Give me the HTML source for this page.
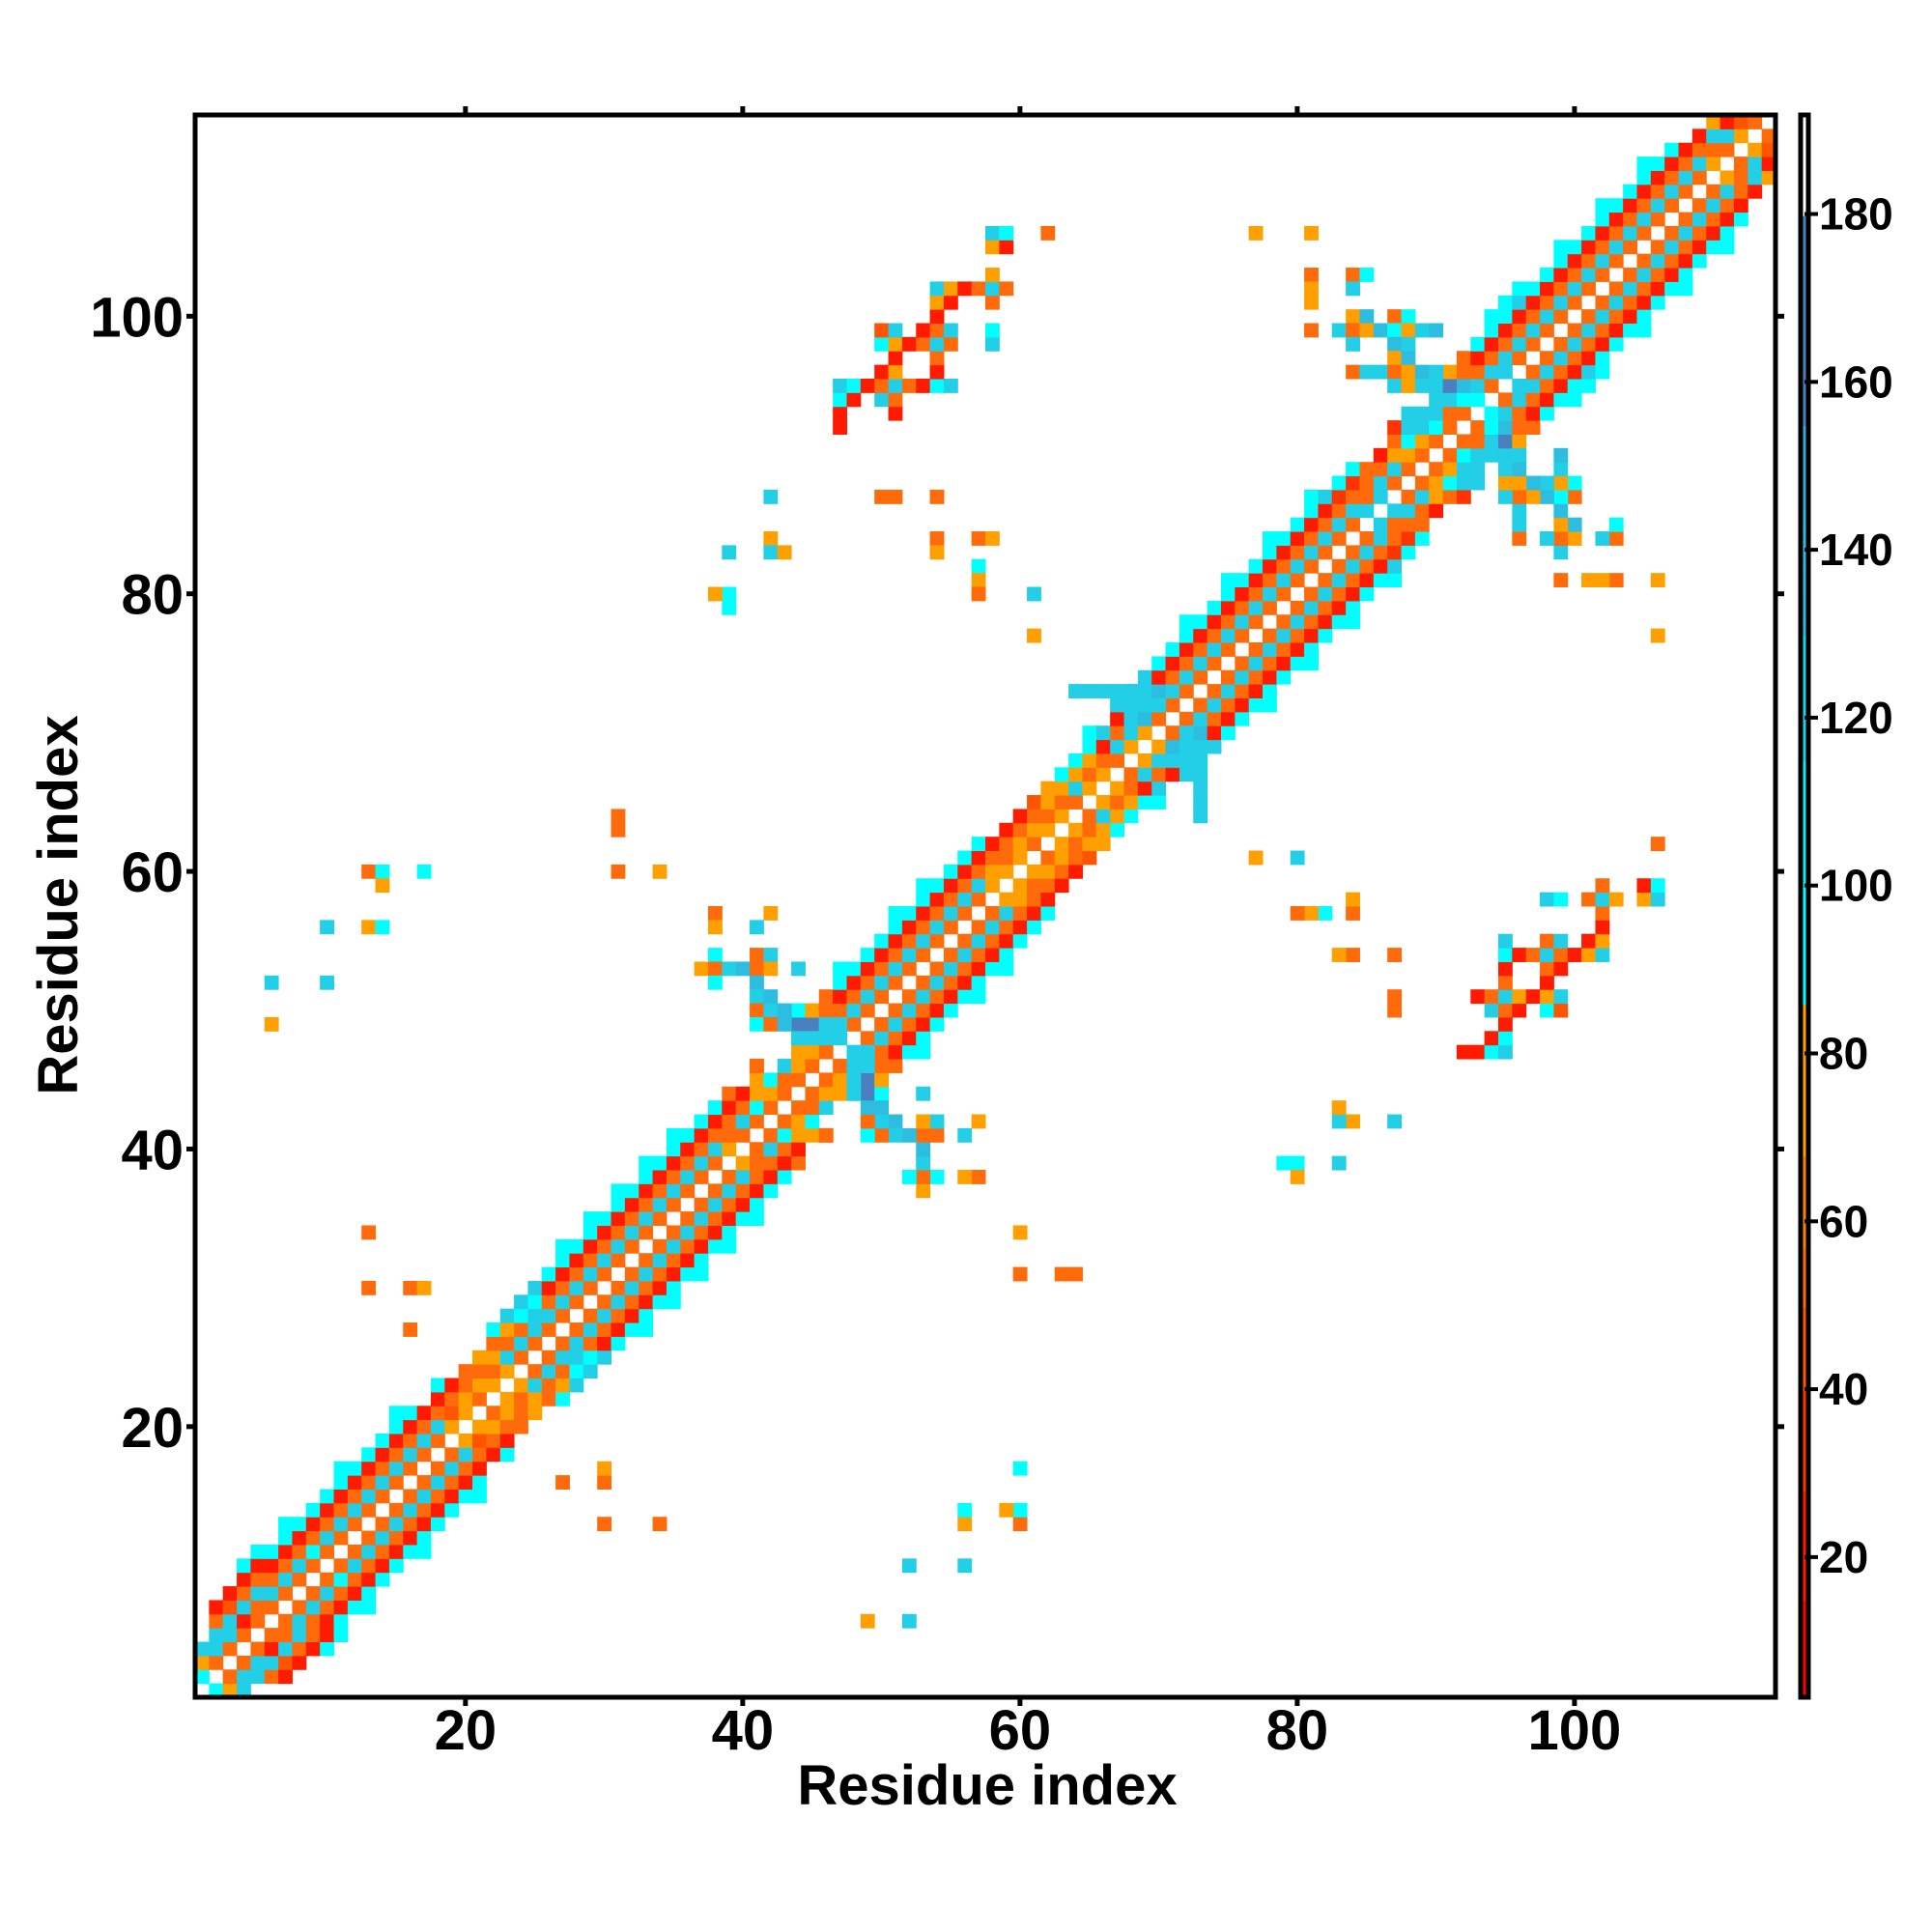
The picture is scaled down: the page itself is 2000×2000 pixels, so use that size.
<!DOCTYPE html>
<html><head><meta charset="utf-8"><style>
html,body{margin:0;padding:0;background:#fff;}
svg{display:block;font-family:"Liberation Sans",sans-serif;font-weight:bold;}
</style></head><body>
<svg id="chart" width="2000" height="2000" viewBox="0 0 2000 2000" xmlns="http://www.w3.org/2000/svg">
<rect width="2000" height="2000" fill="#fff"/>
<g id="cells"></g>
<rect x="202" y="119" width="1636" height="1638" fill="none" stroke="#000" stroke-width="5"/>
<g id="axes"></g>
<g id="cbar"></g>
<text x="1022" y="1868" font-size="58" text-anchor="middle">Residue index</text>
<text x="80" y="937" font-size="58" text-anchor="middle" transform="rotate(-90 80 937)">Residue index</text>
</svg>
<script>
// ---- data ----
const codeValues = {r:22, R:35, o:45, O:55, a:75, c:95, b:125, B:142, s:165};
// band[i-1]: codes for cells (i, i+d), d = 1.. ; '.' = no contact
const band = [
"cab","ObbOr","Obbor","OrbOrc","OObOrc","ObOrc","ObOrcc","ObOrc","OcOrc","ObOrc",
"ObOrcc","ObOrc","ObOrc","ObOrc","ObOrcc","ObOrc","ObOr","ObOrc","aoOr","aaOO",
"OaOa","aOaOc","abOab","ObOcb","Obbcb","ObOrc","ObOrcc","ObOrc","ObOrcc","ObOrc",
"ObOrcc","ObOrc","ObOrcc","ObOrc","ObOrcc","ObOrc","ObOrc","ObOrc","aOOrO","ObOr",
"OcaaO","Oac","OOb","Oaabsc","Oabsa","ObbOO","bbOrcc","ObOrc","ObOrc","ObOrc",
"ObOrcc","ObOrc","ObOrcc","ObOrc","ObOrc","ObOrc","ObOrc","aaOr","aOOr","aaOr",
"OaOo","aOaa","aOac","Obac","aOacc","aOrb","ObOrb","abbbb","aBbbb","ObBrc",
"ObOrc","ObOrcc","ObOrc","ObOrc","ObOrcc","ObOrc","ObOrc","ObOrcc","ObOrc","ObOrc",
"ObOrcc","ObOrb","ObORc","ObORc","bOOO","bbOr","ObaOR","Oacbb","Oabb","Ocbbb",
"OObsa","OcBOO","cbOrc","ObOrcc","bbOrcc","ObOrbc","ObOrc","ObOrc","ObOrcc","ObOrc",
"ObOrc","ObOrcc","ObOrc","ObOrc","ObOrcc","ObOrc","ObOrc","ObOr","ObOr","aOba",
"Obr","ao","O"
];
// off-band contacts [i, j, code] with i < j (mirrored to j, i)
const contacts = [
[13,60,'O'],[14,60,'c'],[14,59,'a'],[17,60,'c'],[10,56,'b'],[13,56,'a'],[14,56,'c'],[6,52,'b'],[10,52,'b'],[6,49,'a'],
[13,34,'O'],[13,30,'O'],[16,30,'O'],[17,30,'a'],[16,27,'O'],
[31,64,'O'],[31,63,'O'],[31,60,'O'],[34,60,'a'],
[38,57,'O'],[42,57,'a'],[38,56,'a'],[41,56,'b'],[38,54,'c'],[41,54,'O'],[42,54,'b'],
[37,53,'a'],[38,53,'O'],[39,53,'b'],[40,53,'B'],[41,53,'O'],[42,53,'a'],[44,53,'b'],
[38,52,'c'],[41,52,'B'],[41,51,'b'],[42,51,'B'],[41,50,'O'],[42,50,'b'],[43,50,'B'],
[41,49,'c'],[42,49,'O'],[43,49,'B'],[46,49,'b'],[47,49,'b'],[44,48,'b'],[45,48,'b'],[41,46,'O'],
[39,80,'c'],[38,80,'a'],[39,79,'c'],[39,83,'b'],[42,84,'a'],[42,83,'b'],[43,83,'a'],[42,87,'b'],
[50,87,'O'],[51,87,'O'],[54,87,'O'],[54,84,'O'],[54,83,'a'],[57,84,'O'],[58,84,'a'],[57,82,'c'],[57,81,'a'],[57,80,'O'],[61,80,'b'],[61,77,'a'],
[47,92,'r'],[47,93,'r'],[51,93,'r'],[47,94,'c'],[48,94,'r'],[50,94,'b'],[51,94,'O'],[47,95,'b'],[48,95,'c'],[49,95,'r'],
[50,95,'O'],[51,95,'b'],[52,95,'O'],[53,95,'r'],[54,95,'c'],[55,95,'b'],[50,96,'r'],[51,96,'a'],[54,96,'r'],[51,97,'r'],
[54,97,'O'],[50,98,'c'],[51,98,'a'],[52,98,'r'],[53,98,'O'],[54,98,'b'],[55,98,'O'],[58,98,'b'],[50,99,'o'],[51,99,'b'],
[53,99,'r'],[54,99,'O'],[55,99,'b'],[58,99,'c'],[54,100,'r'],[54,101,'a'],[55,101,'r'],[58,101,'O'],[54,102,'b'],[55,102,'a'],
[56,102,'r'],[57,102,'O'],[58,102,'b'],[59,102,'O'],[58,103,'a'],[58,105,'a'],[59,105,'r'],[58,106,'b'],[59,106,'c'],[62,106,'O'],
[77,106,'a'],[81,106,'a'],[81,103,'O'],[84,103,'O'],[85,103,'c'],[81,102,'a'],[81,101,'a'],[84,102,'b'],[84,100,'a'],[85,100,'B'],
[87,100,'O'],[88,100,'c'],[81,99,'O'],[83,99,'b'],[84,99,'O'],[85,99,'a'],[86,99,'B'],[87,99,'c'],[88,99,'a'],[89,99,'b'],
[90,99,'B'],[84,98,'b'],[87,98,'B'],[88,98,'b'],[87,97,'a'],[88,97,'B'],[84,96,'O'],[85,96,'b'],[86,96,'b'],[87,96,'O'],
[88,96,'a'],[89,96,'B'],[90,96,'b'],[87,95,'b'],[88,95,'a'],[89,95,'b'],
[64,73,'b'],[65,73,'b'],[66,73,'b'],[67,73,'b'],[68,73,'b'],[72,70,'b']
];
const xTicks = [20,40,60,80,100];
const yTicks = [20,40,60,80,100];
const cbTicks = [20,40,60,80,100,120,140,160,180];

// ---- scales ----
const X0=202, X1=1838, Y0=1757, Y1=119;
const dMin=0.5, dMax=114.5;
const sx = v => X0 + (v-dMin)/(dMax-dMin)*(X1-X0);
const sy = v => Y0 - (v-dMin)/(dMax-dMin)*(Y0-Y1);
const CB0=1757, CB1=119, cMin=3.3, cMax=191.8;
const sc = v => CB0 - (v-cMin)/(cMax-cMin)*(CB0-CB1);
function color(v){
  if(v<15) return '#ff0000';
  if(v<28) return '#ff1a00';
  if(v<40) return '#ff3300';
  if(v<50) return '#ff5500';
  if(v<57) return '#ff6a0a';
  if(v<68) return '#ff8000';
  if(v<86) return '#ffa000';
  if(v<100) return '#00ffff';
  if(v<115) return '#12e8f2';
  if(v<130) return '#22cfe6';
  if(v<145) return '#2cbde0';
  if(v<155) return '#35a8d6';
  if(v<180) return '#4a80c0';
  return '#ffffff';
}
const NS='http://www.w3.org/2000/svg';
function mk(tag, attrs, parent){const e=document.createElementNS(NS,tag);for(const k in attrs)e.setAttribute(k,attrs[k]);parent.appendChild(e);return e;}

// ---- cells ----
const cg=document.getElementById('cells');
const cw=(X1-X0)/(dMax-dMin), ch=(Y0-Y1)/(dMax-dMin);
function cell(i,j,code){
  const v=codeValues[code];
  const r=mk('rect',{x:(sx(i-0.5)).toFixed(2),y:(sy(j+0.5)).toFixed(2),width:(cw+0.5).toFixed(2),height:(ch+0.5).toFixed(2),fill:color(v)},cg);
  
  
}
band.forEach((s,idx)=>{
  const i=idx+1;
  for(let d=1; d<=s.length; d++){
    const c=s[d-1]; if(c==='.') continue;
    const j=i+d; if(j>114) continue;
    cell(i,j,c); cell(j,i,c);
  }
});
contacts.forEach(([i,j,c])=>{cell(i,j,c);cell(j,i,c);});

// ---- axes ----
const ag=document.getElementById('axes');
xTicks.forEach(t=>{
  const x=sx(t);
  mk('line',{x1:x,y1:Y1,x2:x,y2:Y1-9,stroke:'#000','stroke-width':5},ag);
  mk('line',{x1:x,y1:Y0,x2:x,y2:Y0+9,stroke:'#000','stroke-width':5},ag);
  const tx=mk('text',{x:x,y:1811,'font-size':58,'text-anchor':'middle'},ag);
  tx.textContent=t;
  
  
});
yTicks.forEach(t=>{
  const y=sy(t);
  mk('line',{x1:X0,y1:y,x2:X0-9,y2:y,stroke:'#000','stroke-width':5},ag);
  mk('line',{x1:X1,y1:y,x2:X1+9,y2:y,stroke:'#000','stroke-width':5},ag);
  const tx=mk('text',{x:190,y:y+21,'font-size':58,'text-anchor':'end'},ag);
  tx.textContent=t;
  
  
});

// ---- colorbar ----
const bg=document.getElementById('cbar');
for(let v=cMin; v<cMax; v+=0.5){
  const r=mk('rect',{x:1864,y:sc(v+0.5),width:8,height:(sc(v)-sc(v+0.5)+0.4),fill:color(v+0.25)},bg);
}
mk('rect',{x:1864,y:CB1,width:8,height:CB0-CB1,fill:'none',stroke:'#000','stroke-width':5},bg);
cbTicks.forEach(t=>{
  const y=sc(t);
  mk('line',{x1:1868,y1:y,x2:1882,y2:y,stroke:'#000','stroke-width':4},bg);
  const tx=mk('text',{x:1883,y:y+16,'font-size':46},bg);
  tx.textContent=t;
  
  
});
</script>
</body></html>
